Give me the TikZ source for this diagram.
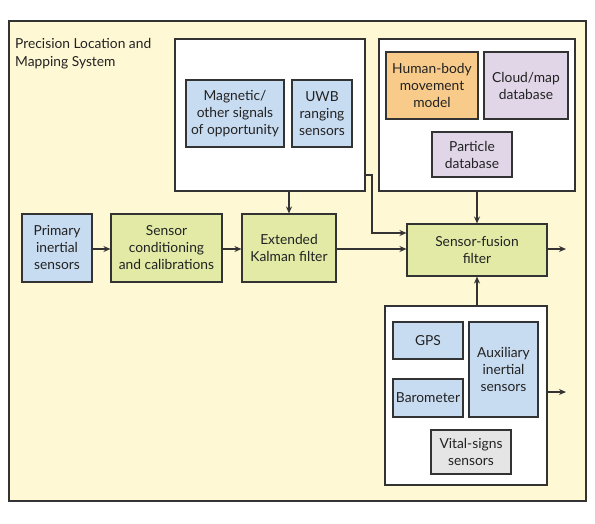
\documentclass[tikz,border=0pt]{standalone}
\usepackage{fontspec}
\setmainfont{Lato}
\usetikzlibrary{arrows.meta}
\definecolor{cream}{HTML}{FFF8D5}
\definecolor{bluefill}{HTML}{C8DCF1}
\definecolor{greenfill}{HTML}{E2EAA6}
\definecolor{orangefill}{HTML}{F8CB8A}
\definecolor{purplefill}{HTML}{E1D5E8}
\definecolor{grayfill}{HTML}{E5E5E5}
\definecolor{edge}{HTML}{333333}
\definecolor{txt}{HTML}{222222}
\tikzset{
  box/.style={draw=edge, line width=1.1pt, align=center, inner sep=0pt, text=txt,
    font=\fontsize{13.8}{17}\selectfont},
  bluebox/.style={box, fill=bluefill},
  greenbox/.style={box, fill=greenfill},
  orangebox/.style={box, fill=orangefill},
  purplebox/.style={box, fill=purplefill},
  graybox/.style={box, fill=grayfill},
  whitebox/.style={draw=edge, line width=1.1pt, fill=white, inner sep=0pt},
  conn/.style={draw=edge, line width=1.2pt, -{Stealth[length=7pt,width=6pt]}},
}
\begin{document}
\begin{tikzpicture}[x=1pt,y=-1pt]
\useasboundingbox (0,0) rectangle (595,523);
\fill[white] (0,0) rectangle (595,523);
% outer system
\node[draw=edge, line width=1.1pt, fill=cream, minimum width=577pt, minimum height=480pt, inner sep=0pt] (outer) at (297.5,261) {};
\node[anchor=north west, align=left, inner sep=0pt, text=txt, font=\fontsize{13.8}{18}\selectfont] (title) at (15,38.5) {Precision Location and\\Mapping System};
% top middle group
\node[whitebox, minimum width=190pt, minimum height=152pt] (mid) at (270,115) {};
\node[bluebox, minimum width=98pt, minimum height=67pt] (mag) at (235,113.5) {Magnetic/\\other signals\\of opportunity};
\node[bluebox, minimum width=60pt, minimum height=67pt] (uwb) at (322,113.5) {UWB\\ranging\\sensors};
% top right group
\node[whitebox, minimum width=196pt, minimum height=152pt] (right) at (477,115) {};
\node[orangebox, minimum width=92pt, minimum height=67pt] (human) at (432,85.5) {Human-body\\movement\\model};
\node[purplebox, minimum width=84pt, minimum height=67pt] (cloud) at (526,85.5) {Cloud/map\\database};
\node[purplebox, minimum width=80pt, minimum height=45pt] (particle) at (472,154.5) {Particle\\database};
% middle row
\node[bluebox, minimum width=70pt, minimum height=68pt] (primary) at (57,248) {Primary\\inertial\\sensors};
\node[greenbox, minimum width=111pt, minimum height=68pt] (cond) at (166.5,248) {Sensor\\conditioning\\and calibrations};
\node[greenbox, minimum width=94pt, minimum height=68pt] (kalman) at (289,248) {Extended\\Kalman filter};
\node[greenbox, minimum width=140pt, minimum height=52pt] (fusion) at (477,250) {Sensor-fusion\\filter};
% bottom group
\node[whitebox, minimum width=162pt, minimum height=179pt] (bottom) at (466,395.5) {};
\node[bluebox, minimum width=70pt, minimum height=37pt] (gps) at (428,340.5) {GPS};
\node[bluebox, minimum width=70pt, minimum height=38pt] (baro) at (428,398) {Barometer};
\node[bluebox, minimum width=69pt, minimum height=95pt] (aux) at (503.5,369.5) {Auxiliary\\inertial\\sensors};
\node[graybox, minimum width=80pt, minimum height=44pt] (vital) at (471,452) {Vital-signs\\sensors};
% coordinates
\coordinate (fusout) at (566,249);
\coordinate (botout) at (566,392);
\coordinate (bend1) at (372,175);
\coordinate (bend2) at (372,233);
% connectors
\draw[conn] (primary.east |- 0,249) -- (cond.west |- 0,249);
\draw[conn] (cond.east |- 0,249) -- (kalman.west |- 0,249);
\draw[conn] (kalman.east |- 0,249) -- (fusion.west |- 0,249);
\draw[conn] (mid.south -| kalman.north) -- (kalman.north);
\draw[conn] (right.south -| fusion.north) -- (fusion.north);
\draw[conn] (bottom.north -| fusion.south) -- (fusion.south);
\draw[conn] (mid.east |- bend1) -- (bend1) -- (bend2) -- (fusion.west |- bend2);
\draw[conn] (fusion.east |- fusout) -- (fusout);
\draw[conn] (bottom.east |- botout) -- (botout);
\end{tikzpicture}
\end{document}
